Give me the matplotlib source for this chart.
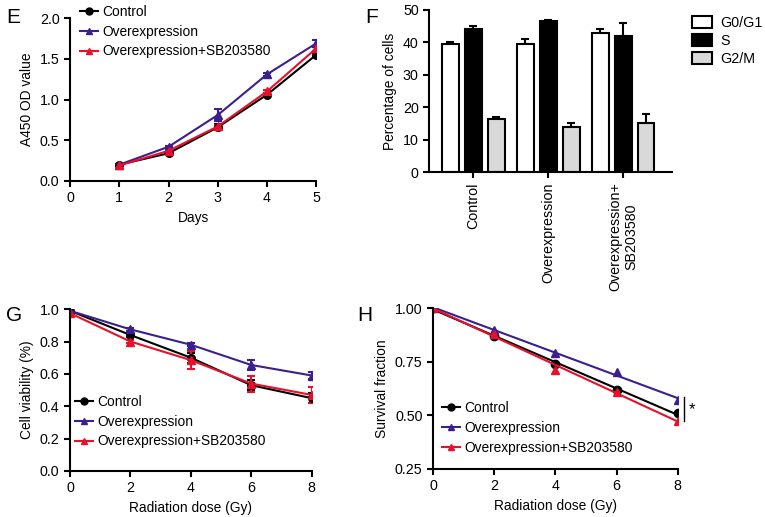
import numpy as np
import matplotlib
matplotlib.use("Agg")
import matplotlib.pyplot as plt
from matplotlib.lines import Line2D

FS = 9.9
plt.rcParams['font.family'] = ['Liberation Sans', 'DejaVu Sans']
plt.rcParams['font.size'] = FS

# ---- data ----
series = ["Control", "Overexpression", "Overexpression+SB203580"]
colors = ["#000000", "#3b1f8e", "#e8102a"]
markers = ["o", "^", "^"]

# Panel E
days = [1, 2, 3, 4, 5]
e_ctrl = [0.20, 0.34, 0.66, 1.06, 1.55]
e_ctrl_err = [0.01, 0.01, 0.04, 0.02, 0.02]
e_oe = [0.20, 0.42, 0.81, 1.31, 1.69]
e_oe_err = [0.01, 0.01, 0.07, 0.02, 0.04]
e_sb = [0.19, 0.37, 0.67, 1.10, 1.63]
e_sb_err = [0.01, 0.01, 0.02, 0.02, 0.03]

# Panel F
f_groups = ["Control", "Overexpression", "Overexpression+\nSB203580"]
phases = ["G0/G1", "S", "G2/M"]
phase_colors = ["#ffffff", "#000000", "#d9d9d9"]
f_g0g1 = [39.5, 39.5, 43.0]
f_g0g1_err = [0.5, 1.5, 1.0]
f_s = [44.0, 46.5, 42.0]
f_s_err = [1.0, 0.5, 4.0]
f_g2m = [16.5, 14.0, 15.0]
f_g2m_err = [0.5, 1.0, 3.0]

# Panel G
dose = [0, 2, 4, 6, 8]
g_ctrl = [0.99, 0.84, 0.70, 0.53, 0.45]
g_ctrl_err = [0.01, 0.01, 0.03, 0.03, 0.03]
g_oe = [0.99, 0.875, 0.78, 0.655, 0.59]
g_oe_err = [0.01, 0.01, 0.01, 0.03, 0.02]
g_sb = [0.975, 0.80, 0.685, 0.54, 0.47]
g_sb_err = [0.01, 0.01, 0.055, 0.05, 0.05]

# Panel H
h_ctrl = [1.00, 0.87, 0.74, 0.62, 0.51]
h_oe = [1.00, 0.90, 0.79, 0.70, 0.57]
h_sb = [1.00, 0.88, 0.71, 0.61, 0.475]

fig = plt.figure(figsize=(7.65, 5.17), dpi=100)

def style(ax):
    for s in ["top", "right"]:
        ax.spines[s].set_visible(False)
    for s in ["left", "bottom"]:
        ax.spines[s].set_linewidth(1.5)
    ax.tick_params(direction="out", length=4, width=1.5, labelsize=FS + 0.4)

def handles():
    return [Line2D([], [], color=c, marker=m, ms=5, lw=1.5) for c, m in zip(colors, markers)]

leg_kw = dict(loc="upper left", frameon=False, fontsize=FS, handlelength=1.3,
              handletextpad=0.3, labelspacing=0.42, borderaxespad=0)

# ---- E ----
axE = fig.add_axes([0.0915, 0.650, 0.322, 0.315])
for y, err, c, m in zip([e_ctrl, e_oe, e_sb], [e_ctrl_err, e_oe_err, e_sb_err], colors, markers):
    axE.errorbar(days, y, yerr=err, color=c, marker=m, ms=5.5, lw=1.5, capsize=3,
                 capthick=1.5, elinewidth=1.5)
axE.set_xlim(0, 5)
axE.set_ylim(0, 2.0)
axE.set_xticks([0, 1, 2, 3, 4, 5])
axE.set_yticks([0.0, 0.5, 1.0, 1.5, 2.0])
axE.set_yticklabels(["0.0", "0.5", "1.0", "1.5", "2.0"])
axE.set_xlabel("Days", fontsize=FS)
axE.set_ylabel("A450 OD value", fontsize=FS)
style(axE)
axE.legend(handles(), series, bbox_to_anchor=(0.02, 1.115), **leg_kw)
fig.text(0.008, 0.955, "E", fontsize=15)

# ---- F ----
axF = fig.add_axes([0.561, 0.667, 0.317, 0.314])
x = np.arange(len(f_groups))
off = 0.307
w = 0.227
for i, (vals, errs, col, lab) in enumerate(zip([f_g0g1, f_s, f_g2m], [f_g0g1_err, f_s_err, f_g2m_err], phase_colors, phases)):
    axF.bar(x + (i - 1) * off, vals, width=w, color=col, edgecolor="black", lw=1.5, label=lab, zorder=2)
    axF.errorbar(x + (i - 1) * off, vals, yerr=[np.zeros(len(errs)), errs], fmt="none",
                 ecolor="black", elinewidth=1.5, capsize=3, capthick=1.5, zorder=1)
axF.set_xlim(-0.59, 2.65)
axF.set_ylim(0, 50)
axF.set_yticks([0, 10, 20, 30, 40, 50])
axF.set_xticks(x)
axF.set_xticklabels(f_groups, rotation=90, fontsize=FS + 0.4)
axF.set_ylabel("Percentage of cells", fontsize=FS)
style(axF)
axF.legend(loc="upper left", bbox_to_anchor=(1.06, 1.0), frameon=False, fontsize=FS + 0.4,
           handlelength=1.4, handleheight=0.9, handletextpad=0.6, labelspacing=0.3, borderaxespad=0)
fig.text(0.477, 0.955, "F", fontsize=15)

# ---- G ----
axG = fig.add_axes([0.0915, 0.089, 0.316, 0.313])
for y, err, c, m in zip([g_ctrl, g_oe, g_sb], [g_ctrl_err, g_oe_err, g_sb_err], colors, markers):
    axG.errorbar(dose, y, yerr=err, color=c, marker=m, ms=5.5, lw=1.5, capsize=3,
                 capthick=1.5, elinewidth=1.5)
axG.set_xlim(0, 8)
axG.set_ylim(0, 1.0)
axG.set_xticks([0, 2, 4, 6, 8])
axG.set_yticks([0.0, 0.2, 0.4, 0.6, 0.8, 1.0])
axG.set_yticklabels(["0.0", "0.2", "0.4", "0.6", "0.8", "1.0"])
axG.set_xlabel("Radiation dose (Gy)", fontsize=FS)
axG.set_ylabel("Cell viability (%)", fontsize=FS)
style(axG)
axG.legend(handles(), series, bbox_to_anchor=(0.0, 0.505), **leg_kw)
fig.text(0.008, 0.38, "G", fontsize=15)

# ---- H ----
axH = fig.add_axes([0.566, 0.093, 0.320, 0.311])
for y, c, m in zip([h_ctrl, h_oe, h_sb], colors, markers):
    coef = np.polyfit(dose, y, 1)
    fit = np.polyval(coef, dose)
    axH.plot(dose, y, linestyle="none", marker=m, color=c, ms=6)
    axH.plot(dose, fit, color=c, lw=1.5)
axH.set_xlim(0, 8)
axH.set_ylim(0.25, 1.0)
axH.set_xticks([0, 2, 4, 6, 8])
axH.set_yticks([0.25, 0.50, 0.75, 1.00])
axH.set_yticklabels(["0.25", "0.50", "0.75", "1.00"])
axH.set_xlabel("Radiation dose (Gy)", fontsize=FS)
axH.set_ylabel("Survival fraction", fontsize=FS)
style(axH)
axH.plot([8.2, 8.2], [0.475, 0.585], color="black", lw=1.0, clip_on=False)
axH.text(8.45, 0.525, "*", fontsize=12, ha="center", va="center", clip_on=False)
axH.legend(handles(), series, bbox_to_anchor=(0.015, 0.455), **leg_kw)
fig.text(0.467, 0.38, "H", fontsize=15)

fig.savefig("out.png", dpi=100)
